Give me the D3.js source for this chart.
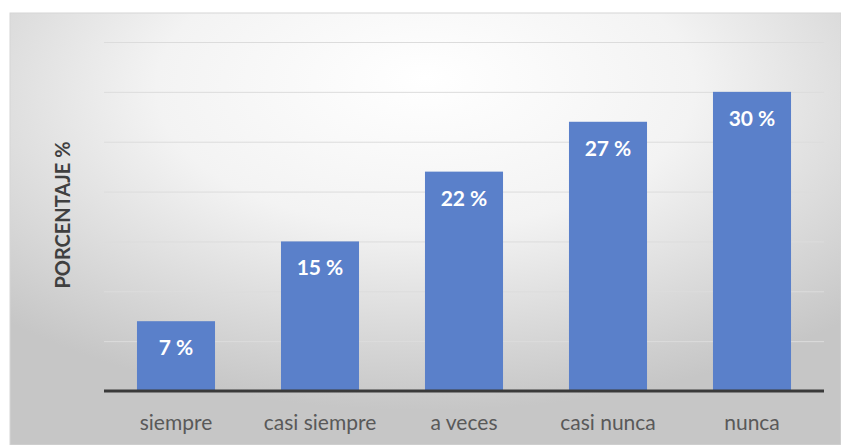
<!DOCTYPE html>
<html>
<head>
<meta charset="utf-8">
<script src="https://cdn.jsdelivr.net/npm/d3@7"></script>
<style>
  html, body { margin: 0; padding: 0; background: #ffffff; }
  svg { display: block; }
</style>
</head>
<body>
<svg id="chart" width="841" height="445"></svg>
<script>
// Survey answer frequency, in percent
const categories = ["siempre", "casi siempre", "a veces", "casi nunca", "nunca"];
const values = [7, 15, 22, 27, 30];
const gridTicks = [5, 10, 15, 20, 25, 30, 35];
const axisTitle = "PORCENTAJE %";

const svg = d3.select("#chart");
const W = 841, H = 445;

// Chart area background: soft radial gradient, bright at top centre
const defs = svg.append("defs");
const grad = defs.append("radialGradient")
  .attr("id", "bg")
  .attr("cx", 0.5).attr("cy", 0.2).attr("r", 0.72)
  .attr("fx", 0.5).attr("fy", 0.15);
grad.append("stop").attr("offset", "0%").attr("stop-color", "#ffffff");
grad.append("stop").attr("offset", "45%").attr("stop-color", "#f3f3f3");
grad.append("stop").attr("offset", "100%").attr("stop-color", "#c6c6c6");

svg.append("rect")
  .attr("x", 10).attr("y", 13)
  .attr("width", W - 10).attr("height", H - 13)
  .attr("fill", "url(#bg)")
  .attr("stroke", "#d6d6d6").attr("stroke-width", 1);

const x = d3.scaleBand()
  .domain(categories)
  .range([104, 824])
  .paddingInner(0.458)
  .paddingOuter(0.229);

const y = d3.scaleLinear()
  .domain([0, 35])
  .range([391, 42]);

// Horizontal gridlines
svg.append("g")
  .attr("transform", "translate(104,0)")
  .call(d3.axisLeft(y).tickValues(gridTicks).tickSize(-720).tickFormat(""))
  .call(g => g.select(".domain").remove())
  .call(g => g.selectAll(".tick line").attr("stroke", "#dcdcdc").attr("stroke-width", 1));

// Bars
svg.append("g")
  .selectAll("rect")
  .data(values)
  .join("rect")
  .attr("x", (d, i) => x(categories[i]))
  .attr("y", d => y(d))
  .attr("width", x.bandwidth())
  .attr("height", d => y(0) - y(d))
  .attr("fill", "#5a80ca");

// Value labels inside the bars
svg.append("g")
  .selectAll("text")
  .data(values)
  .join("text")
  .attr("x", (d, i) => x(categories[i]) + x.bandwidth() / 2)
  .attr("y", d => y(d) + 34)
  .attr("text-anchor", "middle")
  .attr("font-family", "Lato, 'Open Sans', sans-serif")
  .attr("font-weight", 700)
  .attr("font-size", 21)
  .attr("fill", "#ffffff")
  .text(d => d + " %");

// Category axis
const xAxis = svg.append("g")
  .attr("transform", `translate(0,${y(0)})`)
  .call(d3.axisBottom(x).tickSize(0).tickPadding(24));
xAxis.select(".domain").attr("stroke", "#3a3a3a").attr("stroke-width", 3)
  .attr("d", "M104,0H824");
xAxis.selectAll(".tick text")
  .attr("font-family", "Lato, 'Open Sans', sans-serif")
  .attr("font-size", 21)
  .attr("fill", "#595959");

// Value axis title
svg.append("text")
  .attr("transform", "translate(70,215) rotate(-90)")
  .attr("text-anchor", "middle")
  .attr("font-family", "Lato, 'Open Sans', sans-serif")
  .attr("font-weight", 700)
  .attr("font-size", 20)
  .attr("fill", "#404040")
  .text(axisTitle);
</script>
</body>
</html>
